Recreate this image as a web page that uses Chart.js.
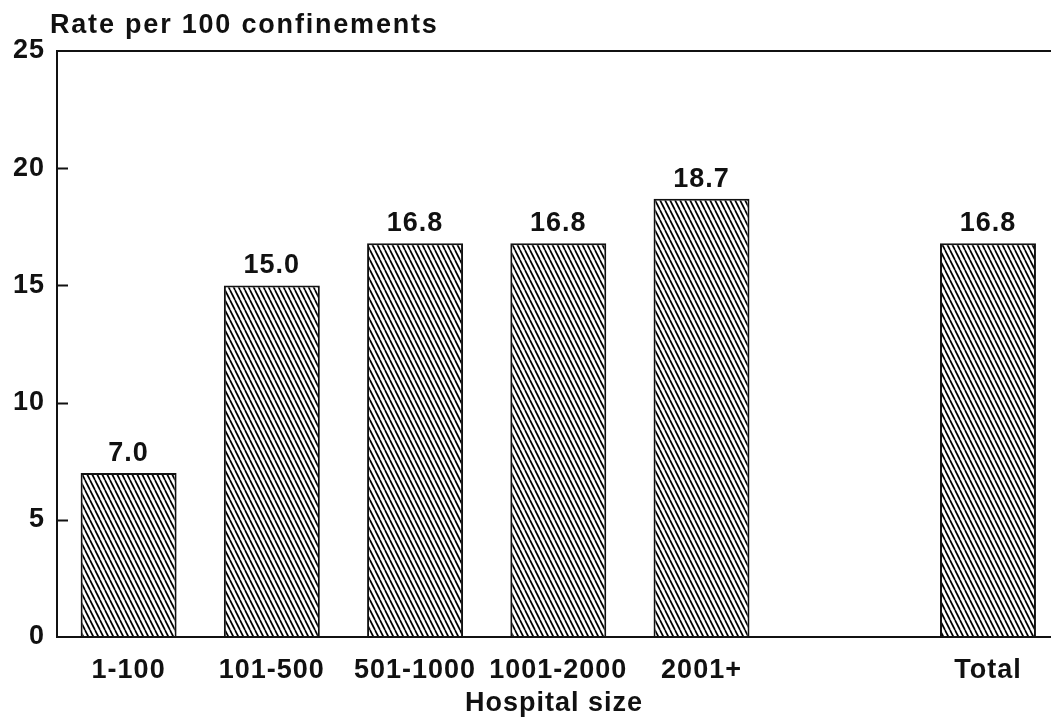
<!DOCTYPE html>
<html>
<head>
<meta charset="utf-8">
<script src="https://cdn.jsdelivr.net/npm/chart.js@4/dist/chart.umd.min.js"></script>
<style>
  html, body { margin: 0; padding: 0; background: #fff; }
  #wrap { width: 1051px; height: 717px; position: relative; }
</style>
</head>
<body>
<div id="wrap"><canvas id="c" width="1051" height="717"></canvas></div>
<script>
// ---- data ----
const categories = ['1-100', '101-500', '501-1000', '1001-2000', '2001+', '', 'Total'];
const rates = [7.0, 15.0, 16.8, 16.8, 18.7, null, 16.8];
const yTicks = [0, 5, 10, 15, 20, 25];
const yTitle = 'Rate per 100 confinements';
const xTitle = 'Hospital size';

const FONT = '"Liberation Sans", Arial, Helvetica, sans-serif';
const INK = '#111';
const SPACING = '1px';
const FSIZE = 27;

function hatchPattern() {
  const c = document.createElement('canvas');
  c.width = 5; c.height = 10;
  const g = c.getContext('2d');
  g.fillStyle = '#fff';
  g.fillRect(0, 0, 5, 10);
  g.strokeStyle = '#000';
  g.lineWidth = 1.7;
  for (const dx of [-5, 0, 5]) {
    g.beginPath();
    g.moveTo(dx, 0);
    g.lineTo(dx + 5, 10);
    g.stroke();
  }
  return g.createPattern(c, 'repeat');
}

const points = [];
categories.forEach((c, i) => { if (rates[i] !== null) points.push({ x: i, y: rates[i] }); });

const spacingPlugin = {
  id: 'spacing',
  beforeUpdate(chart) { chart.ctx.letterSpacing = SPACING; },
  beforeDraw(chart) { chart.ctx.letterSpacing = SPACING; }
};

const extrasPlugin = {
  id: 'extras',
  afterDraw(chart) {
    const ctx = chart.ctx;
    const y = chart.scales.y;
    const area = chart.chartArea;
    ctx.save();
    ctx.letterSpacing = SPACING;
    // inward tick marks
    ctx.strokeStyle = INK;
    ctx.lineWidth = 2;
    yTicks.forEach(v => {
      if (v === 0 || v === 25) return;
      const py = Math.round(y.getPixelForValue(v)) + 0.5;
      ctx.beginPath();
      ctx.moveTo(area.left, py);
      ctx.lineTo(area.left + 11, py);
      ctx.stroke();
    });
    // value labels
    ctx.fillStyle = INK;
    ctx.font = 'bold ' + FSIZE + 'px ' + FONT;
    ctx.textAlign = 'center';
    ctx.textBaseline = 'alphabetic';
    const meta = chart.getDatasetMeta(0);
    meta.data.forEach((bar, i) => {
      const v = points[i].y;
      ctx.fillText(v.toFixed(1), bar.x, bar.y - 12);
    });
    // y axis title (horizontal, top-left)
    ctx.letterSpacing = '1.8px';
    ctx.textAlign = 'left';
    ctx.fillText(yTitle, 50, 33);
    ctx.restore();
  }
};

new Chart(document.getElementById('c'), {
  type: 'bar',
  data: {
    datasets: [{
      data: points,
      backgroundColor: hatchPattern(),
      borderColor: INK,
      borderWidth: 2,
      borderSkipped: 'bottom',
      categoryPercentage: 1,
      barPercentage: 0.67
    }]
  },
  options: {
    responsive: false,
    animation: false,
    devicePixelRatio: 1,
    layout: { padding: { top: 51, right: 0, bottom: 0, left: 0 } },
    plugins: { legend: { display: false }, tooltip: { enabled: false } },
    scales: {
      x: {
        type: 'linear',
        offset: false,
        min: -0.5,
        max: 6.44,
        grid: { display: false, offset: false },
        border: { display: true, color: INK, width: 2 },
        afterBuildTicks(scale) { scale.ticks = categories.map((c, i) => ({ value: i })); },
        afterFit(scale) { scale.height = 80; },
        ticks: {
          autoSkip: false,
          maxRotation: 0,
          padding: 9,
          color: INK,
          font: { family: FONT, size: FSIZE, weight: 'bold' },
          callback: (v) => categories[v] !== undefined ? categories[v] : ''
        },
        title: {
          display: true,
          text: xTitle,
          color: INK,
          padding: { top: 0, bottom: -3 },
          font: { family: FONT, size: FSIZE, weight: 'bold' }
        }
      },
      y: {
        min: 0,
        max: 25,
        afterBuildTicks(scale) { scale.ticks = yTicks.map(v => ({ value: v })); },
        afterFit(scale) { scale.width = 57; },
        grid: {
          drawTicks: false,
          lineWidth: 2,
          color: (ctx) => (ctx.tick && ctx.tick.value === 25) ? INK : 'rgba(0,0,0,0)'
        },
        border: { display: true, color: INK, width: 2 },
        ticks: {
          padding: 12,
          color: INK,
          font: { family: FONT, size: FSIZE, weight: 'bold' }
        }
      }
    }
  },
  plugins: [spacingPlugin, extrasPlugin]
});
</script>
</body>
</html>
